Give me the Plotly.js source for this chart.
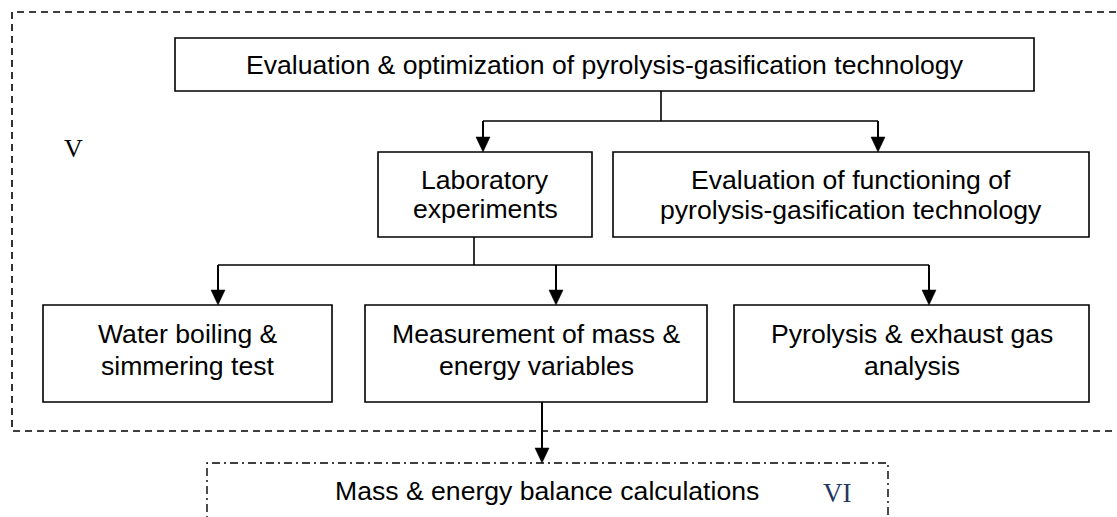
<!DOCTYPE html>
<html>
<head>
<meta charset="utf-8">
<script src="https://cdn.plot.ly/plotly-3.0.1.min.js"></script>
<style>html,body{margin:0;padding:0;background:#fff;}#chart{width:1117px;height:517px;}</style>
</head>
<body>
<div id="chart"></div>
<script>
// ---- diagram content ----
const boxLabels = [
  ["Evaluation & optimization of pyrolysis-gasification technology"],
  ["Laboratory", "experiments"],
  ["Evaluation of functioning of", "pyrolysis-gasification technology"],
  ["Water boiling &", "simmering test"],
  ["Measurement of mass &", "energy variables"],
  ["Pyrolysis & exhaust gas", "analysis"]
];
// box geometry (diagram coordinates, pixels from top-left)
const boxX0 = [175, 378, 613, 43, 365, 734];
const boxX1 = [1034, 592, 1089, 332, 707, 1089];
const boxY0 = [38, 152, 152, 305, 305, 305];
const boxY1 = [91, 237, 237, 402, 402, 402];
const textLineY = [[65], [180, 209], [180, 210], [334, 366], [334, 366], [334, 366]];

// connectors: [x0, y0, x1, y1]
const connectors = [
  [661, 91, 661, 121], [483, 121, 878, 121],
  [474, 237, 474, 265], [218, 265, 929, 265]
];
// arrows: [x, yStart, yEnd]
const arrows = [
  [483, 121, 152], [878, 121, 152],
  [218, 265, 305], [556, 265, 305], [929, 265, 305],
  [542, 402, 463]
];
const groupLabels = ["V", "VI"];
const groupLabelPos = [[73, 148], [837, 493]];
const groupLabelColors = ["#000000", "#1f3864"];
const bottomLabel = "Mass & energy balance calculations";
const bottomLabelPos = [547, 491];

// ---- build shapes ----
const shapes = [];
// outer dashed group (V)
shapes.push({type: "path", xref: "x", yref: "y",
  path: "M 1116 12 L 12 12 L 12 431 L 1116 431",
  line: {color: "#000", width: 1.6, dash: "7px,5px"}});
// dash-dot group (VI)
shapes.push({type: "path", xref: "x", yref: "y",
  path: "M 207 530 L 207 463 L 888 463 L 888 530",
  line: {color: "#000", width: 1.4, dash: "8px,4px,2px,4px"}});

for (let i = 0; i < boxLabels.length; i++) {
  shapes.push({type: "rect", xref: "x", yref: "y",
    x0: boxX0[i], x1: boxX1[i], y0: boxY0[i], y1: boxY1[i],
    line: {color: "#000", width: 1.6}, fillcolor: "rgba(0,0,0,0)"});
}
connectors.forEach(c => shapes.push({type: "line", xref: "x", yref: "y",
  x0: c[0], y0: c[1], x1: c[2], y1: c[3], line: {color: "#000", width: 1.6}}));
arrows.forEach(a => {
  const hh = 15, hw = 7;
  shapes.push({type: "line", xref: "x", yref: "y",
    x0: a[0], y0: a[1], x1: a[0], y1: a[2] - hh + 1, line: {color: "#000", width: 2}});
  shapes.push({type: "path", xref: "x", yref: "y",
    path: `M ${a[0]-hw} ${a[2]-hh} L ${a[0]+hw} ${a[2]-hh} L ${a[0]} ${a[2]} Z`,
    fillcolor: "#000", line: {color: "#000", width: 0.5}});
});

// ---- annotations ----
const annotations = [];
const sans = "Liberation Sans, Arial, sans-serif";
const serif = "Liberation Serif, Times New Roman, serif";
for (let i = 0; i < boxLabels.length; i++) {
  const cx = (boxX0[i] + boxX1[i]) / 2;
  boxLabels[i].forEach((t, j) => annotations.push({
    xref: "x", yref: "y", x: cx, y: textLineY[i][j], text: t,
    showarrow: false, xanchor: "center", yanchor: "middle",
    font: {family: sans, size: 26.6, color: "#000"}
  }));
}
groupLabels.forEach((t, i) => annotations.push({
  xref: "x", yref: "y", x: groupLabelPos[i][0], y: groupLabelPos[i][1], text: t,
  showarrow: false, xanchor: "center", yanchor: "middle",
  font: {family: serif, size: i === 0 ? 26 : 27, color: groupLabelColors[i]}
}));
annotations.push({xref: "x", yref: "y", x: bottomLabelPos[0], y: bottomLabelPos[1],
  text: bottomLabel, showarrow: false, xanchor: "center", yanchor: "middle",
  font: {family: sans, size: 26.6, color: "#000"}});

const layout = {
  width: 1117, height: 517,
  margin: {l: 0, r: 0, t: 0, b: 0, pad: 0},
  paper_bgcolor: "#fff", plot_bgcolor: "#fff",
  xaxis: {range: [0, 1117], visible: false, fixedrange: true},
  yaxis: {range: [517, 0], visible: false, fixedrange: true},
  shapes: shapes, annotations: annotations, showlegend: false
};
Plotly.newPlot("chart", [], layout, {staticPlot: true, displayModeBar: false});
</script>
</body>
</html>
